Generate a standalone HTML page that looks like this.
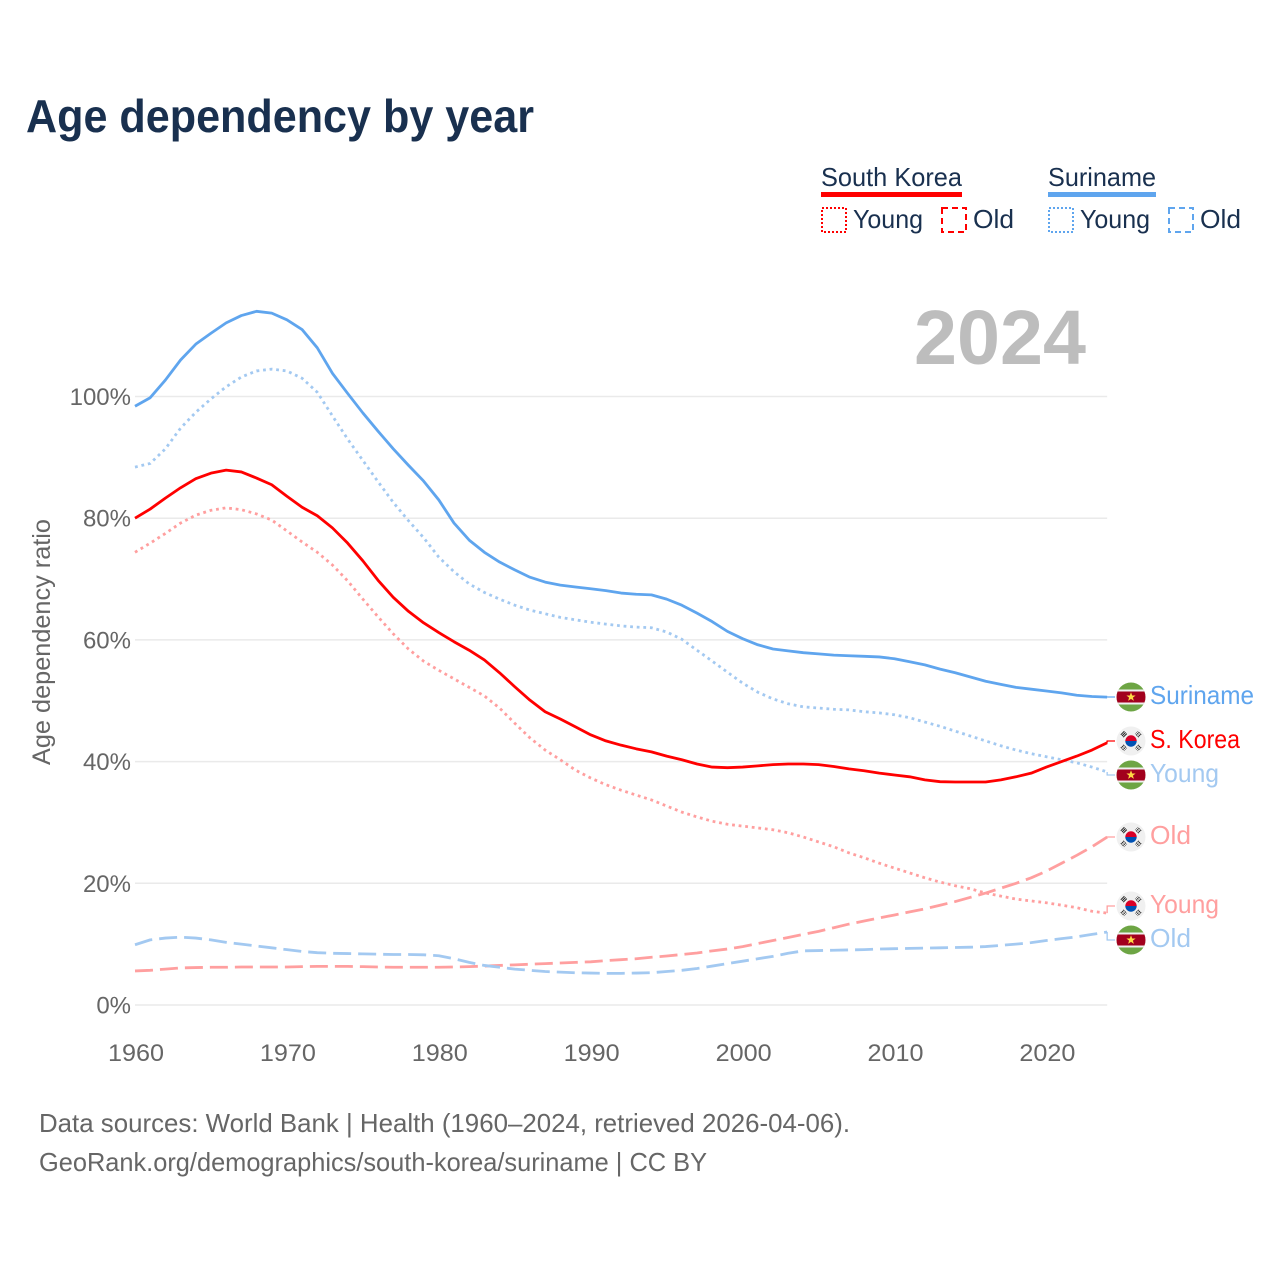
<!DOCTYPE html>
<html lang="en">
<head>
<meta charset="utf-8">
<title>Age dependency by year</title>
<style>
html,body{margin:0;padding:0;background:#fff;width:1280px;height:1280px;overflow:hidden}
svg{display:block}
text{font-family:"Liberation Sans",sans-serif}
</style>
</head>
<body>
<svg id="chart" width="1280" height="1280" viewBox="0 0 1280 1280" xmlns="http://www.w3.org/2000/svg">
<defs>
<clipPath id="flag-clip"><circle cx="0" cy="0" r="14.5"/></clipPath>
<g id="flag-suriname" clip-path="url(#flag-clip)">
<rect x="-15" y="-15" width="30" height="30" fill="#6da544"/>
<rect x="-15" y="-7.5" width="30" height="15" fill="#f0f0f0"/>
<rect x="-15" y="-5.5" width="30" height="11" fill="#a2001d"/>
<polygon points="0,-4.8 1.2,-1.5 4.6,-1.5 1.9,0.6 2.9,3.9 0,1.9 -2.9,3.9 -1.9,0.6 -4.6,-1.5 -1.2,-1.5" fill="#ffda44"/>
</g>
<g id="flag-korea" clip-path="url(#flag-clip)">
<rect x="-15" y="-15" width="30" height="30" fill="#f0f0f0"/>
<path d="M-5.7,0A5.7,5.7 0 0 1 5.7,0Z" fill="#d80027"/>
<path d="M-5.7,0A5.7,5.7 0 0 0 5.7,0Z" fill="#0052b4"/>
<g stroke="#222" stroke-width="1" fill="none">
<path d="M-10.2,-6.2L-6.6,-9.8M-9,-5L-5.4,-8.6M-7.8,-3.8L-4.2,-7.4"/>
<path d="M10.2,-6.2L6.6,-9.8M9,-5L5.4,-8.6M7.8,-3.8L4.2,-7.4" stroke-dasharray="1.6 0.7"/>
<path d="M-10.2,6.2L-6.6,9.8M-9,5L-5.4,8.6M-7.8,3.8L-4.2,7.4" stroke-dasharray="1.6 0.7"/>
<path d="M10.2,6.2L6.6,9.8M9,5L5.4,8.6M7.8,3.8L4.2,7.4" stroke-dasharray="1.6 0.7"/>
</g>
</g>
</defs>

<text x="26" y="132" font-size="46" font-weight="700" fill="#19304f" textLength="508" lengthAdjust="spacingAndGlyphs">Age dependency by year</text>

<g>
<g>
<text x="821" y="186" font-size="26" fill="#19304f" textLength="141" lengthAdjust="spacingAndGlyphs">South Korea</text>
<rect x="821" y="192" width="141" height="5" fill="#ff0000"/>
<rect x="822" y="208" width="24" height="24" fill="none" stroke="#ff0000" stroke-width="2" stroke-dasharray="2 2"/>
<text x="853" y="228" font-size="26" fill="#19304f" textLength="70" lengthAdjust="spacingAndGlyphs">Young</text>
<rect x="942" y="208" width="24" height="24" fill="none" stroke="#ff0000" stroke-width="2" stroke-dasharray="6 4"/>
<text x="973" y="228" font-size="26" fill="#19304f" textLength="41" lengthAdjust="spacingAndGlyphs">Old</text>
</g>
<g>
<text x="1048" y="186" font-size="26" fill="#19304f" textLength="108" lengthAdjust="spacingAndGlyphs">Suriname</text>
<rect x="1048" y="192" width="108" height="5" fill="#5fa5ee"/>
<rect x="1049" y="208" width="24" height="24" fill="none" stroke="#5fa5ee" stroke-width="2" stroke-dasharray="2 2"/>
<text x="1080" y="228" font-size="26" fill="#19304f" textLength="70" lengthAdjust="spacingAndGlyphs">Young</text>
<rect x="1169" y="208" width="24" height="24" fill="none" stroke="#5fa5ee" stroke-width="2" stroke-dasharray="6 4"/>
<text x="1200" y="228" font-size="26" fill="#19304f" textLength="41" lengthAdjust="spacingAndGlyphs">Old</text>
</g>
</g>

<text x="914" y="364" font-size="77" font-weight="700" fill="#bdbdbd" textLength="172" lengthAdjust="spacingAndGlyphs">2024</text>
<text transform="translate(50,765) rotate(-90)" x="0" y="0" font-size="25" fill="#666666" textLength="246" lengthAdjust="spacingAndGlyphs">Age dependency ratio</text>

<g id="grid"></g>
<g id="y-ticks"></g>
<g id="x-ticks"></g>
<g id="series"></g>

<g>
<g>
<use href="#flag-suriname" x="1131" y="697"/>
<text x="1150" y="704" font-size="26" fill="#5fa5ee" textLength="104" lengthAdjust="spacingAndGlyphs">Suriname</text>
</g>
<g>
<use href="#flag-korea" x="1131" y="741"/>
<text x="1150" y="748" font-size="26" fill="#ff0000" textLength="90" lengthAdjust="spacingAndGlyphs">S. Korea</text>
</g>
<g>
<use href="#flag-suriname" x="1131" y="775"/>
<text x="1150" y="782" font-size="26" fill="#a3c9f1" textLength="69" lengthAdjust="spacingAndGlyphs">Young</text>
</g>
<g>
<use href="#flag-korea" x="1131" y="837"/>
<text x="1150" y="844" font-size="26" fill="#ff9f9f" textLength="41" lengthAdjust="spacingAndGlyphs">Old</text>
</g>
<g>
<use href="#flag-korea" x="1131" y="906"/>
<text x="1150" y="913" font-size="26" fill="#ff9f9f" textLength="69" lengthAdjust="spacingAndGlyphs">Young</text>
</g>
<g>
<use href="#flag-suriname" x="1131" y="940"/>
<text x="1150" y="947" font-size="26" fill="#a3c9f1" textLength="41" lengthAdjust="spacingAndGlyphs">Old</text>
</g>
</g>

<text x="39" y="1132" font-size="26" fill="#666666" textLength="811" lengthAdjust="spacingAndGlyphs">Data sources: World Bank | Health (1960–2024, retrieved 2026-04-06).</text>
<text x="39" y="1171" font-size="26" fill="#666666" textLength="668" lengthAdjust="spacingAndGlyphs">GeoRank.org/demographics/south-korea/suriname | CC BY</text>
</svg>

<script>
const firstYear = 1960;
const xTickYears = [1960, 1970, 1980, 1990, 2000, 2010, 2020];
const yTickValues = [0, 20, 40, 60, 80, 100];

const surinameTotal = [
98.4,99.8,102.7,106,108.6,110.4,112.1,113.3,114,113.7,
112.6,111,108,103.8,100.5,97.3,94.3,91.4,88.7,86.1,
83,79.2,76.4,74.4,72.8,71.5,70.3,69.5,69,68.7,
68.4,68.1,67.7,67.5,67.4,66.7,65.7,64.4,63,61.4,
60.2,59.2,58.5,58.2,57.9,57.7,57.5,57.4,57.3,57.2,
56.9,56.4,55.9,55.2,54.6,53.9,53.2,52.7,52.2,51.9,
51.6,51.3,50.9,50.7,50.6];

const surinameYoung = [
88.4,89,91.4,94.8,97.4,99.6,101.6,103.2,104.2,104.5,
104.2,103,100.7,96.8,93,89.5,86,82.6,79.6,76.8,
73.6,71.2,69.2,67.8,66.7,65.7,64.9,64.3,63.7,63.3,
62.9,62.6,62.3,62.1,62,61.3,60.1,58.3,56.5,54.7,
52.9,51.4,50.3,49.5,49,48.8,48.6,48.5,48.2,48,
47.7,47.2,46.5,45.8,45,44.2,43.4,42.6,41.9,41.3,
40.8,40.3,39.8,39.1,38.3];

const surinameOld = [
9.9,10.7,11,11.15,11,10.7,10.3,10,9.7,9.4,
9.1,8.8,8.6,8.5,8.45,8.4,8.35,8.3,8.3,8.25,
8.1,7.6,7,6.5,6.2,5.9,5.7,5.5,5.4,5.3,
5.25,5.2,5.2,5.25,5.3,5.5,5.7,6,6.4,6.8,
7.2,7.6,8,8.5,8.9,8.95,9,9.05,9.1,9.2,
9.25,9.3,9.35,9.4,9.45,9.5,9.6,9.8,10,10.25,
10.6,10.9,11.2,11.6,12];

const koreaTotal = [
80,81.5,83.3,85,86.5,87.4,87.9,87.6,86.6,85.5,
83.6,81.8,80.4,78.4,75.9,73,69.8,67,64.7,62.8,
61.2,59.7,58.3,56.7,54.6,52.3,50.1,48.2,47,45.7,
44.4,43.4,42.7,42.1,41.6,40.9,40.3,39.6,39.1,39,
39.1,39.3,39.5,39.6,39.6,39.5,39.2,38.8,38.5,38.1,
37.8,37.5,37,36.7,36.65,36.65,36.65,37,37.5,38.1,
39.1,40,40.9,41.9,43.1];

const koreaYoung = [
74.4,75.9,77.5,79.2,80.5,81.3,81.7,81.4,80.7,79.7,
77.9,76.1,74.4,72.3,69.7,66.7,63.8,61,58.5,56.5,
55,53.6,52.2,50.8,48.8,46.3,43.9,41.9,40.3,38.6,
37.3,36.2,35.3,34.5,33.7,32.7,31.7,30.9,30.2,29.7,
29.4,29.1,28.8,28.3,27.6,26.8,26,25,24.2,23.3,
22.5,21.7,20.9,20.2,19.6,19.1,18.4,17.9,17.4,17.1,
16.8,16.4,16,15.4,15.1];

const koreaOld = [
5.6,5.7,5.9,6.1,6.15,6.2,6.2,6.25,6.25,6.25,
6.25,6.3,6.35,6.35,6.35,6.3,6.25,6.2,6.2,6.2,
6.2,6.25,6.3,6.4,6.5,6.6,6.7,6.8,6.9,7,
7.1,7.3,7.45,7.6,7.85,8.05,8.3,8.55,8.9,9.2,
9.6,10.1,10.6,11.1,11.6,12.1,12.7,13.3,13.8,14.3,
14.8,15.3,15.8,16.4,17,17.7,18.4,19.2,20,20.9,
22,23.3,24.6,26,27.6];

const NS = 'http://www.w3.org/2000/svg';
const xAxis = year => 135 + (year - firstYear) * 15.19;
const yAxis = pct => 1005 - pct * 6.085;

const gridLayer = document.getElementById('grid');
const yLayer = document.getElementById('y-ticks');
const xLayer = document.getElementById('x-ticks');
const seriesLayer = document.getElementById('series');

yTickValues.forEach(function (v) {
  const line = document.createElementNS(NS, 'line');
  
  
  line.setAttribute('x1', xAxis(firstYear));
  line.setAttribute('x2', xAxis(2024));
  line.setAttribute('y1', yAxis(v));
  line.setAttribute('y2', yAxis(v));
  line.setAttribute('stroke', '#eaeaea');
  line.setAttribute('stroke-width', '1.5');
  gridLayer.appendChild(line);

  const label = document.createElementNS(NS, 'text');
  
  
  label.setAttribute('x', '131');
  label.setAttribute('y', yAxis(v) + 8.5);
  label.setAttribute('text-anchor', 'end');
  label.setAttribute('font-size', '24');
  label.setAttribute('fill', '#666666');
  label.textContent = v + '%';
  yLayer.appendChild(label);
});

xTickYears.forEach(function (year) {
  const label = document.createElementNS(NS, 'text');
  
  
  label.setAttribute('x', xAxis(year) + 1);
  label.setAttribute('y', '1061');
  label.setAttribute('text-anchor', 'middle');
  label.setAttribute('font-size', '24');
  label.setAttribute('textLength', '56');
  label.setAttribute('lengthAdjust', 'spacingAndGlyphs');
  label.setAttribute('fill', '#666666');
  label.textContent = year;
  xLayer.appendChild(label);
});

function drawSeries(name, values, color, dash, labelY) {
  const d = values.map(function (v, i) {
    return (i ? 'L' : 'M') + xAxis(firstYear + i).toFixed(2) + ',' + yAxis(v).toFixed(2);
  }).join('');
  const path = document.createElementNS(NS, 'path');
  
  
  path.setAttribute('d', d);
  path.setAttribute('fill', 'none');
  path.setAttribute('stroke', color);
  path.setAttribute('stroke-width', '2.8');
  path.setAttribute('stroke-linejoin', 'round');
  if (dash) path.setAttribute('stroke-dasharray', dash);
  seriesLayer.appendChild(path);

  const endX = xAxis(firstYear + values.length - 1);
  const endY = yAxis(values[values.length - 1]);
  const link = document.createElementNS(NS, 'path');
  
  
  link.setAttribute('d', 'M' + endX + ',' + endY + 'V' + labelY + 'H1115');
  link.setAttribute('fill', 'none');
  link.setAttribute('stroke', color);
  link.setAttribute('stroke-width', '1.3');
  seriesLayer.appendChild(link);
}

drawSeries('south-korea-old', koreaOld, '#ff9f9f', '18 7', 837);
drawSeries('suriname-old', surinameOld, '#a3c9f1', '18 7', 940);
drawSeries('south-korea-young', koreaYoung, '#ff9f9f', '2.8 3.8', 906);
drawSeries('suriname-young', surinameYoung, '#a3c9f1', '2.8 3.8', 775);
drawSeries('south-korea-total', koreaTotal, '#ff0000', '', 741);
drawSeries('suriname-total', surinameTotal, '#5fa5ee', '', 697);
</script>
</body>
</html>
